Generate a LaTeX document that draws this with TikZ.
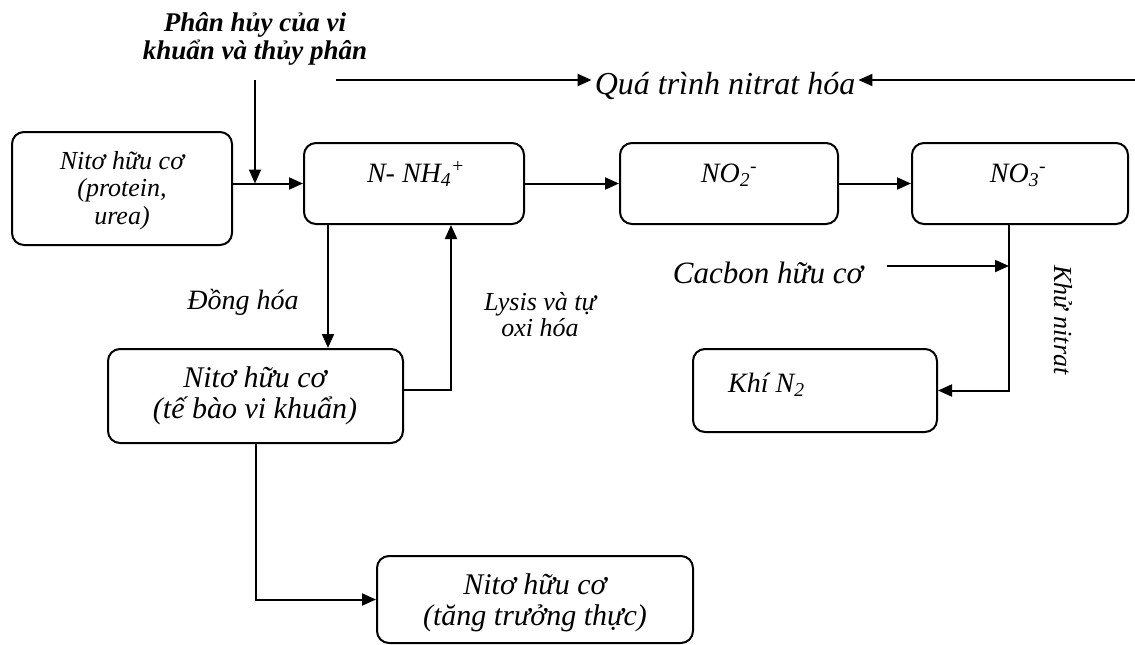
\documentclass[tikz,border=0pt]{standalone}
\usepackage{fontspec}
\setmainfont{Liberation Serif}
\usetikzlibrary{arrows.meta}
\begin{document}
\begin{tikzpicture}[x=1pt,y=-1pt,
  box/.style={draw, line width=2pt, rounded corners=12pt, inner sep=0pt},
  conn/.style={line width=2pt, -{Triangle[length=14pt,width=12pt]}},
  txt/.style={font=\fontsize{26}{27.5}\selectfont\itshape, align=center, inner sep=0pt},
  bigtxt/.style={font=\fontsize{30}{31}\selectfont\itshape, align=center, inner sep=0pt},
  boldtxt/.style={font=\fontsize{27}{28}\selectfont\bfseries\itshape, align=center, inner sep=0pt}
]
\useasboundingbox (0,0) rectangle (1135,645);
% boxes
\node[box, minimum width=220pt, minimum height=113pt] (A) at (122,188.5) {};
\node[box, minimum width=220pt, minimum height=81pt] (B) at (414,183.5) {};
\node[box, minimum width=218pt, minimum height=81pt] (N2) at (729,183.5) {};
\node[box, minimum width=216pt, minimum height=81pt] (N3) at (1020,183.5) {};
\node[box, minimum width=295pt, minimum height=94pt] (C) at (255.5,396) {};
\node[box, minimum width=244pt, minimum height=83pt] (D) at (815,390.5) {};
\node[box, minimum width=316pt, minimum height=87pt] (E) at (535,599.5) {};
% box texts
\node[txt] (At) at (122,190.5) {Nitơ hữu cơ\\(protein,\\urea)};
\node[txt, font=\fontsize{28}{30}\selectfont\itshape, anchor=base] (Bt) at (416,182) {N- NH\textsubscript{4}\textsuperscript{+}};
\node[txt, font=\fontsize{28}{30}\selectfont\itshape, anchor=base] (N2t) at (729,182) {NO\textsubscript{2}\textsuperscript{-}};
\node[txt, font=\fontsize{28}{30}\selectfont\itshape, anchor=base] (N3t) at (1018,182) {NO\textsubscript{3}\textsuperscript{-}};
\node[bigtxt] (Ct) at (255,396) {Nitơ hữu cơ\\(tế bào vi khuẩn)};
\node[txt, font=\fontsize{28}{30}\selectfont\itshape, anchor=base west] (Dt) at (728,392) {Khí N\textsubscript{2}};
\node[bigtxt] (Et) at (535,603) {Nitơ hữu cơ\\(tăng trưởng thực)};
% labels
\node[boldtxt] (ph) at (255,39) {Phân hủy của vi\\khuẩn và thủy phân};
\node[font=\fontsize{32}{34}\selectfont\itshape, inner xsep=3pt, inner ysep=0pt] (Q) at (725,86) {Quá trình nitrat hóa};
\node[txt, font=\fontsize{28}{30}\selectfont\itshape] (dh) at (243,302) {Đồng hóa};
\node[txt, font=\fontsize{26}{26}\selectfont\itshape] (ly) at (540,315) {Lysis và tự\\oxi hóa};
\node[txt, font=\fontsize{31}{32}\selectfont\itshape] (cb) at (768,273) {Cacbon hữu cơ};
\node[txt, rotate=-90] (kn) at (1063,320) {Khử nitrat};
% coordinates
\coordinate (pt) at (255,80);
\coordinate (ql) at (336,80);
\coordinate (qr) at (1135,80);
\coordinate (bd) at (328,0);
\coordinate (cu) at (451,390);
\coordinate (nd) at (1009,391);
\coordinate (cs) at (887,266);
% connectors
\draw[conn] (A.east |- B.west) -- (B.west);
\draw[conn] (pt) -- (pt |- B.west);
\draw[conn] (ql) -- (Q.west |- ql);
\draw[conn] (qr) -- (Q.east |- qr);
\draw[conn] (B.east) -- (N2.west);
\draw[conn] (N2.east) -- (N3.west);
\draw[conn] (B.south -| bd) -- (C.north -| bd);
\draw[conn] (C.east |- cu) -- (cu) -- (B.south -| cu);
\draw[conn] (C.south) |- (E.west);
\draw[conn] (N3.south -| nd) |- (D.east);
\draw[conn] (cs) -- (nd |- cs);
\end{tikzpicture}
\end{document}
